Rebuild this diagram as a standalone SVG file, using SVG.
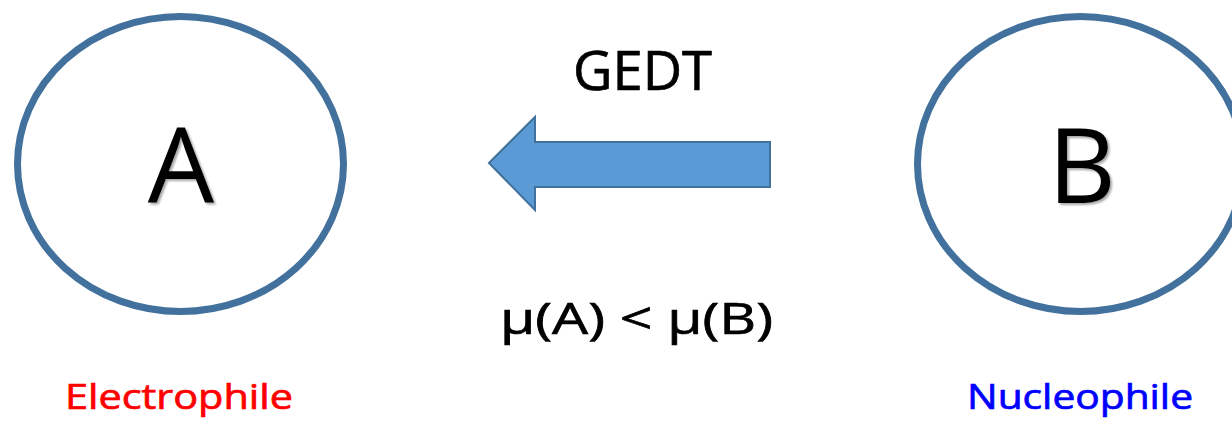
<svg xmlns="http://www.w3.org/2000/svg" width="1232" height="422" viewBox="0 0 1232 422">
<defs>
<filter id="sh" x="-20%" y="-20%" width="140%" height="140%">
<feGaussianBlur in="SourceAlpha" stdDeviation="1.2"/>
<feOffset dx="2" dy="2" result="b"/>
<feComponentTransfer><feFuncA type="linear" slope="0.35"/></feComponentTransfer>
<feMerge><feMergeNode/><feMergeNode in="SourceGraphic"/></feMerge>
</filter>
</defs>
<style>
.node{fill:#fff;stroke:#41719C;stroke-width:7}
.big{font-family:"Open Sans","Liberation Sans",sans-serif;font-size:105px;fill:#000;text-anchor:middle}
.lbl{font-family:"Open Sans","Liberation Sans",sans-serif;stroke-width:0.7}
.arrow{fill:#5B9BD5;stroke:#41719C;stroke-width:2}
</style>
<rect width="1232" height="422" fill="#fff"/>
<g id="nodeA">
<ellipse class="node" cx="180.5" cy="164" rx="163" ry="147.5"/>
<text class="big" x="181" y="203" filter="url(#sh)">A</text>
</g>
<g id="nodeB">
<ellipse class="node" cx="1080.5" cy="164" rx="163" ry="147.5"/>
<text class="big" x="1082" y="203" filter="url(#sh)">B</text>
</g>
<g id="connectors">
<polygon class="arrow" points="489,163 535,117 535,142 770,142 770,187 535,187 535,210"/>
<text class="lbl" x="573" y="90" font-size="55" fill="#000" stroke="#000" textLength="139" lengthAdjust="spacingAndGlyphs">GEDT</text>
<text class="lbl" x="500" y="334" font-size="43" fill="#000" stroke="#000" textLength="273" lengthAdjust="spacingAndGlyphs">μ(A) &lt; μ(B)</text>
</g>
<g id="labels">
<text class="lbl" x="65" y="409" font-size="34" fill="#FF0000" stroke="#FF0000" textLength="228" lengthAdjust="spacingAndGlyphs">Electrophile</text>
<text class="lbl" x="967" y="409" font-size="34" fill="#0000FF" stroke="#0000FF" textLength="226" lengthAdjust="spacingAndGlyphs">Nucleophile</text>
</g>
</svg>
